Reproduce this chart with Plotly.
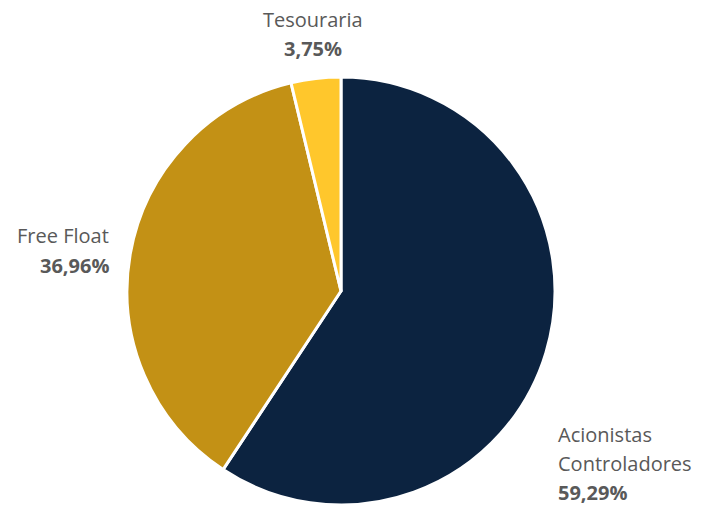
import plotly.graph_objects as go

labels = ["Acionistas Controladores", "Free Float", "Tesouraria"]
values = [59.29, 36.96, 3.75]
pct_text = ["59,29%", "36,96%", "3,75%"]
colors = ["#0C2340", "#C39115", "#FFC72C"]

W, H = 702, 507
cx, cy, r = 341, 291, 214

fig = go.Figure(go.Pie(
    labels=labels, values=values, sort=False, direction="clockwise", rotation=0,
    marker=dict(colors=colors, line=dict(color="white", width=3)),
    textinfo="none", hoverinfo="label+percent", showlegend=False,
    domain=dict(x=[(cx - r) / W, (cx + r) / W], y=[1 - (cy + r) / H, 1 - (cy - r) / H]),
))

FONT = "Open Sans"
GREY = "#595959"
def ann(text, x, y, anchor, bold=False):
    fig.add_annotation(
        text=f"<b>{text}</b>" if bold else text, x=x / W, y=1 - y / H,
        xref="paper", yref="paper", xanchor=anchor, yanchor="middle",
        showarrow=False, font=dict(family=FONT, size=20, color=GREY),
    )

# Tesouraria
ann(labels[2], 313, 20, "center")
ann(pct_text[2], 313, 48, "center", True)
# Free Float
ann(labels[1], 111, 236, "right")
ann(pct_text[1], 111, 265, "right", True)
# Acionistas Controladores
ann("Acionistas", 556, 434, "left")
ann("Controladores", 556, 463, "left")
ann(pct_text[0], 556, 492, "left", True)

fig.update_layout(
    width=W, height=H, margin=dict(l=0, r=0, t=0, b=0),
    paper_bgcolor="white", plot_bgcolor="white",
)
fig.write_html("out.html", config={"displayModeBar": False},
               post_script="document.body.style.margin='0px';")
